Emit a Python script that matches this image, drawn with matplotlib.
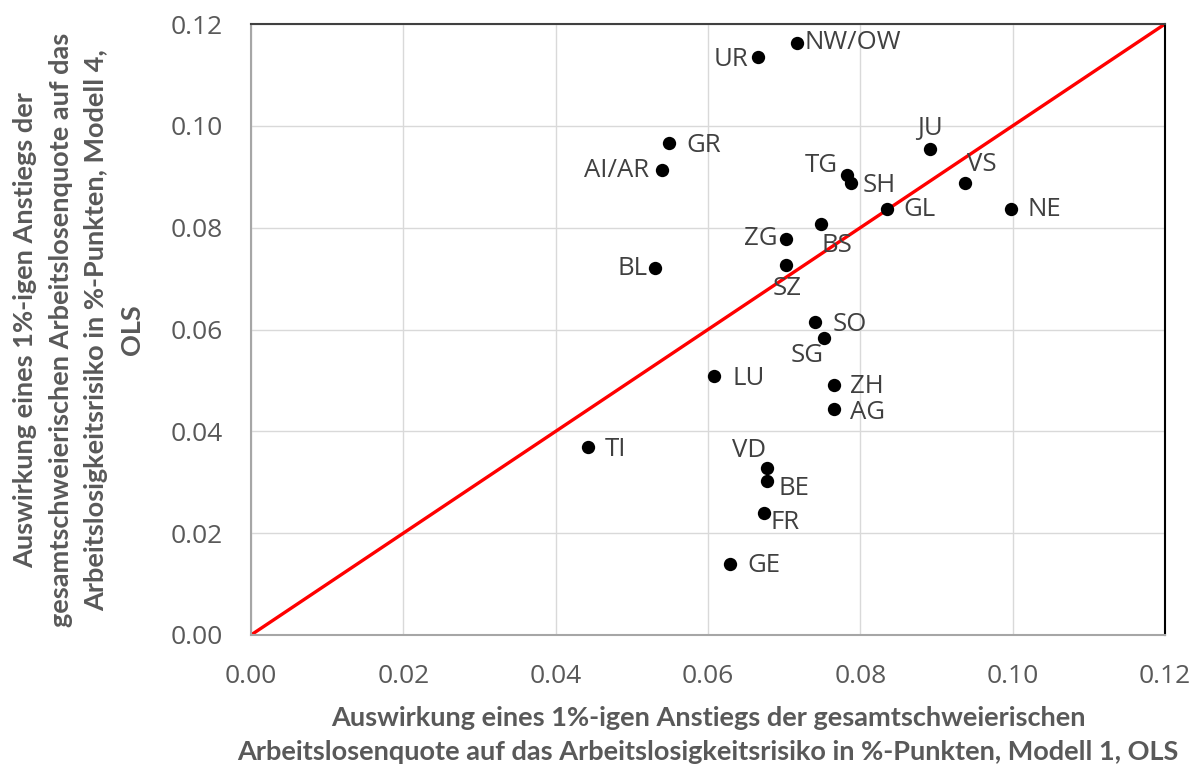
import matplotlib
matplotlib.use("Agg")
import matplotlib.pyplot as plt
import numpy as np

# Cantonal effects of a 1% rise in the Swiss unemployment rate
cantons = ["UR", "NW/OW", "GR", "AI/AR", "JU", "TG", "SH", "VS", "GL", "NE",
           "BS", "ZG", "SZ", "BL", "SO", "SG", "LU", "ZH", "AG", "TI",
           "VD", "BE", "FR", "GE"]
model1 = [0.0665, 0.0717, 0.0549, 0.0539, 0.0892, 0.0782, 0.0788, 0.0938, 0.0835, 0.0998,
          0.0749, 0.0703, 0.0703, 0.0531, 0.0741, 0.0752, 0.0608, 0.0765, 0.0766, 0.0443,
          0.0678, 0.0677, 0.0673, 0.0629]
model4 = [0.1136, 0.1163, 0.0966, 0.0913, 0.0954, 0.0903, 0.0887, 0.0887, 0.0837, 0.0837,
          0.0808, 0.0777, 0.0727, 0.0720, 0.0614, 0.0583, 0.0509, 0.0491, 0.0443, 0.0370,
          0.0328, 0.0303, 0.0240, 0.0139]
diag = [0.0, 0.12]
ticks = [0.00, 0.02, 0.04, 0.06, 0.08, 0.10, 0.12]

xlabel_lines = ["Auswirkung eines 1%-igen Anstiegs der gesamtschweierischen",
                "Arbeitslosenquote auf das Arbeitslosigkeitsrisiko in %-Punkten, Modell 1, OLS"]
ylabel_lines = ["Auswirkung eines 1%-igen Anstiegs der",
                "gesamtschweierischen Arbeitslosenquote auf das",
                "Arbeitslosigkeitsrisiko in %-Punkten, Modell 4,",
                "OLS"]

# label placement: (dx, dy) in pixels, horizontal alignment
label_pos = {
    "UR": (-9, -3, "right"), "NW/OW": (7, 0, "left"), "GR": (17, -2, "left"),
    "AI/AR": (-12, 0, "right"), "JU": (0, 21, "center"), "TG": (-9, 10, "right"),
    "SH": (11, -2, "left"), "VS": (2, 19, "left"), "GL": (16, -1, "left"),
    "NE": (16, -1, "left"), "BS": (15, -22, "center"), "ZG": (-9, 1, "right"),
    "SZ": (1, -24, "center"), "BL": (-8, 0, "right"), "SO": (17, -2, "left"),
    "SG": (-17, -17, "center"), "LU": (18, -3, "left"), "ZH": (16, -2, "left"),
    "AG": (16, -3, "left"), "TI": (16, -3, "left"), "VD": (-18, 17, "center"),
    "BE": (12, -8, "left"), "FR": (7, -10, "left"), "GE": (17, -1, "left"),
}

tick_font = "Open Sans"
title_font = "Lato"
grey_text = "#595959"
W, H = 1200, 767

fig = plt.figure(figsize=(W / 100, H / 100), dpi=100)
ax = fig.add_axes([251 / W, 1 - 635 / H, (1165 - 251) / W, (635 - 24) / H])

ax.set_xlim(0, 0.12)
ax.set_ylim(0, 0.12)
ax.set_xticks(ticks)
ax.set_yticks(ticks)
ax.set_xticklabels([f"{t:.2f}" for t in ticks], fontfamily=tick_font, fontsize=19, color=grey_text)
ax.set_yticklabels([f"{t:.2f}" for t in ticks], fontfamily=tick_font, fontsize=19, color=grey_text)
ax.tick_params(axis="both", length=0)
ax.tick_params(axis="x", pad=21)
ax.tick_params(axis="y", pad=20)
ax.grid(True, color="#D9D9D9", linewidth=1.0)
ax.set_axisbelow(True)

for side, col in (("left", "#A6A6A6"), ("bottom", "#A6A6A6"), ("top", "#404040"), ("right", "#000000")):
    ax.spines[side].set_color(col)
    ax.spines[side].set_linewidth(1.5)

ax.plot(diag, diag, color="#FF0000", linewidth=2.4, zorder=2, solid_capstyle="butt")
ax.scatter(model1, model4, s=92, color="black", zorder=3, linewidths=0)

for name, x, y in zip(cantons, model1, model4):
    dx, dy, ha = label_pos[name]
    ax.annotate(name, (x, y), xytext=(dx, dy), textcoords="offset pixels",
                ha=ha, va="center", fontfamily=tick_font, fontsize=18.5, color="#404040", zorder=4)

# axis titles, placed line by line (pixel baselines)
title_kw = dict(fontfamily=title_font, fontweight="bold", fontsize=19.5, color=grey_text)
for line, base in zip(xlabel_lines, [726, 760]):
    fig.text(708 / W, 1 - base / H, line, ha="center", va="baseline", **title_kw)
for line, base in zip(ylabel_lines, [33, 69, 104, 140]):
    fig.text(base / W, 1 - 330 / H, line, ha="center", va="baseline",
             rotation=90, rotation_mode="anchor", **title_kw)

fig.savefig("out.png", dpi=100)
